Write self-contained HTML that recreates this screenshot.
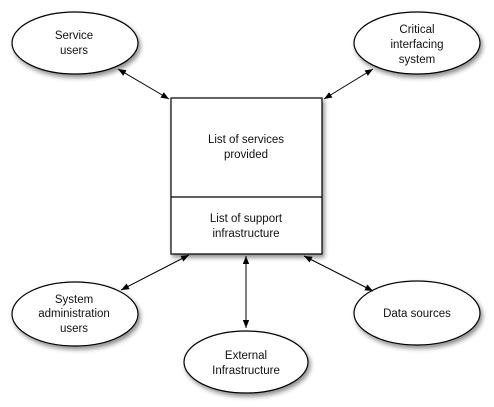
<!DOCTYPE html>
<html><head><style>body{margin:0;background:#fff}svg{display:block}text{font-family:"Liberation Sans",sans-serif;font-size:11.5px;fill:#111;text-anchor:middle}</style></head>
<body>
<svg width="494" height="407" viewBox="0 0 494 407" xmlns="http://www.w3.org/2000/svg">
<defs>
<filter id="sh" x="-20%" y="-20%" width="150%" height="150%"><feGaussianBlur in="SourceAlpha" stdDeviation="2.5"/><feOffset dx="2" dy="3"/><feComponentTransfer><feFuncA type="linear" slope="0.45"/></feComponentTransfer><feMerge><feMergeNode/><feMergeNode in="SourceGraphic"/></feMerge></filter>
<marker id="a" viewBox="0 0 10 10" refX="10" refY="5" markerWidth="8" markerHeight="8" orient="auto-start-reverse"><path d="M0,1 L10,5 L0,9 z" fill="#000"/></marker>
</defs>
<g fill="#fff" stroke="#000" stroke-width="1.2" filter="url(#sh)">
<ellipse cx="75" cy="43" rx="63" ry="31"/>
<ellipse cx="417" cy="43" rx="63" ry="31"/>
<rect x="171" y="98" width="151" height="156"/>
<ellipse cx="75" cy="314" rx="63" ry="32"/>
<ellipse cx="246" cy="362" rx="62" ry="31"/>
<ellipse cx="417" cy="313" rx="63" ry="32"/>
</g>
<line x1="171" y1="197" x2="322" y2="197" stroke="#000" stroke-width="1.2"/>
<g stroke="#000" stroke-width="1" marker-start="url(#a)" marker-end="url(#a)">
<line x1="118" y1="69" x2="169" y2="99"/>
<line x1="373" y1="69" x2="324" y2="99"/>
<line x1="189" y1="255" x2="121" y2="290"/>
<line x1="246" y1="256" x2="246" y2="328"/>
<line x1="304" y1="256" x2="373" y2="291"/>
</g>
<text x="74" y="39">Service</text><text x="74" y="54">users</text>
<text x="417" y="33">Critical</text><text x="417" y="48">interfacing</text><text x="417" y="63">system</text>
<text x="246" y="143">List of services</text><text x="246" y="158">provided</text>
<text x="246" y="222">List of support</text><text x="246" y="237">infrastructure</text>
<text x="74" y="303">System</text><text x="74" y="317">administration</text><text x="74" y="332">users</text>
<text x="246" y="359">External</text><text x="246" y="374">Infrastructure</text>
<text x="417" y="317">Data sources</text>
</svg>
</body></html>
